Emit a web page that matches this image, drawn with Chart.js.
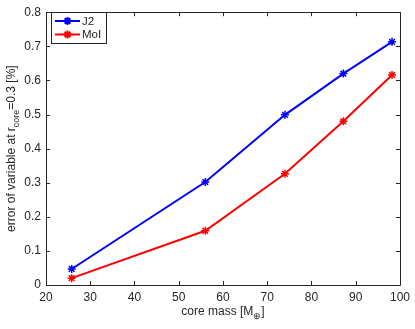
<!DOCTYPE html>
<html>
<head>
<meta charset="utf-8">
<script src="https://cdn.jsdelivr.net/npm/chart.js@4"></script>
<style>
  html, body { margin: 0; padding: 0; background: #fff; }
  #wrap { width: 415px; height: 329px; position: relative; }
</style>
</head>
<body>
<div id="wrap"><canvas id="chart" width="415" height="329"></canvas></div>
<script>
const coreMass = [25.8, 56, 74, 87.2, 98.2];
const j2Error = [0.047, 0.302, 0.499, 0.620, 0.713];
const moiError = [0.020, 0.159, 0.326, 0.480, 0.616];
const seriesNames = ['J2', 'MoI'];
const seriesColors = ['#0000ff', '#ff0000'];
const xTicks = [20, 30, 40, 50, 60, 70, 80, 90, 100];
const yTicks = [0, 0.1, 0.2, 0.3, 0.4, 0.5, 0.6, 0.7, 0.8];

const FONT = '"Liberation Sans", Arial, sans-serif';
const AXIS_COLOR = '#262626';

// draw text made of normal and subscript pieces, centred on (0,0)
function drawRich(ctx, parts, size) {
    let total = 0;
    const widths = parts.map(p => {
        ctx.font = (p.sub ? size * 0.75 : size) + 'px ' + FONT;
        const w = ctx.measureText(p.t).width;
        total += w;
        return w;
    });
    let x = -total / 2;
    parts.forEach((p, i) => {
        ctx.font = (p.sub ? size * 0.75 : size) + 'px ' + FONT;
        ctx.fillText(p.t, x, p.sub ? size * 0.35 : 0);
        x += widths[i];
    });
}

const framePlugin = {
    id: 'frame',
    afterDraw(chart) {
        const { ctx, chartArea: a, scales } = chart;
        ctx.save();
        ctx.strokeStyle = AXIS_COLOR;
        ctx.lineWidth = 1;
        ctx.beginPath();
        ctx.rect(Math.round(a.left) + 0.5, Math.round(a.top) + 0.5,
                 Math.round(a.right - a.left), Math.round(a.bottom - a.top));
        ctx.stroke();

        // inward ticks on all sides
        const tl = 4;
        ctx.beginPath();
        xTicks.forEach(v => {
            const px = Math.round(scales.x.getPixelForValue(v)) + 0.5;
            ctx.moveTo(px, a.bottom); ctx.lineTo(px, a.bottom - tl);
            ctx.moveTo(px, a.top); ctx.lineTo(px, a.top + tl);
        });
        yTicks.forEach(v => {
            const py = Math.round(scales.y.getPixelForValue(v)) + 0.5;
            ctx.moveTo(a.left, py); ctx.lineTo(a.left + tl, py);
            ctx.moveTo(a.right, py); ctx.lineTo(a.right - tl, py);
        });
        ctx.stroke();

        // axis titles
        ctx.fillStyle = AXIS_COLOR;
        ctx.textBaseline = 'middle';
        ctx.textAlign = 'left';
        ctx.save();
        ctx.translate((a.left + a.right) / 2, 312);
        drawRich(ctx, [{ t: 'core mass [M' }, { t: '\u2295', sub: true }, { t: ']' }], 12);
        ctx.restore();

        ctx.save();
        ctx.translate(12, (a.top + a.bottom) / 2);
        ctx.rotate(-Math.PI / 2);
        drawRich(ctx, [{ t: 'error of variable at r' }, { t: 'core', sub: true }, { t: '=0.3 [%]' }], 12);
        ctx.restore();

        // legend box
        const lx = 51, ly = 12, lw = 55, lh = 31;
        ctx.fillStyle = '#fff';
        ctx.fillRect(lx, ly, lw, lh);
        ctx.strokeStyle = AXIS_COLOR;
        ctx.strokeRect(lx + 0.5, ly + 0.5, lw, lh);
        seriesNames.forEach((name, i) => {
            const y = ly + 9 + i * 13.5;
            ctx.strokeStyle = seriesColors[i];
            ctx.lineWidth = 2;
            ctx.beginPath();
            ctx.moveTo(lx + 4, y); ctx.lineTo(lx + 29, y);
            ctx.stroke();
            Chart.helpers.drawPoint(ctx, { pointStyle: 'star', radius: 4, borderWidth: 1.5 }, lx + 16.5, y);
            ctx.fillStyle = AXIS_COLOR;
            ctx.font = '11.5px ' + FONT;
            ctx.textAlign = 'left';
            ctx.fillText(name, lx + 31, y + 0.5);
        });
        ctx.restore();
    }
};

const mk = (ys, i) => ({
    label: seriesNames[i],
    data: coreMass.map((x, k) => ({ x: x, y: ys[k] })),
    borderColor: seriesColors[i],
    backgroundColor: seriesColors[i],
    borderWidth: 2,
    pointStyle: 'star',
    pointRadius: 4,
    pointBorderWidth: 1.5,
    tension: 0
});

new Chart(document.getElementById('chart'), {
    type: 'line',
    data: { datasets: [mk(j2Error, 0), mk(moiError, 1)] },
    options: {
        responsive: false,
        animation: false,
        layout: { padding: { top: 6, right: 13, left: 0, bottom: 0 } },
        plugins: { legend: { display: false }, tooltip: { enabled: false } },
        scales: {
            x: {
                type: 'linear', min: 20, max: 100,
                afterBuildTicks: s => { s.ticks = xTicks.map(v => ({ value: v })); },
                afterFit: s => { s.height = 44; },
                grid: { display: false, drawTicks: false },
                border: { display: false },
                ticks: { padding: 5, color: AXIS_COLOR, font: { family: FONT, size: 12 }, maxRotation: 0 }
            },
            y: {
                min: 0, max: 0.8,
                afterBuildTicks: s => { s.ticks = yTicks.map(v => ({ value: v })); },
                afterFit: s => { s.width = 46; },
                grid: { display: false, drawTicks: false },
                border: { display: false },
                ticks: { padding: 5, color: AXIS_COLOR, font: { family: FONT, size: 12 },
                         callback: v => String(+v.toFixed(1)) }
            }
        }
    },
    plugins: [framePlugin]
});
</script>
</body>
</html>
